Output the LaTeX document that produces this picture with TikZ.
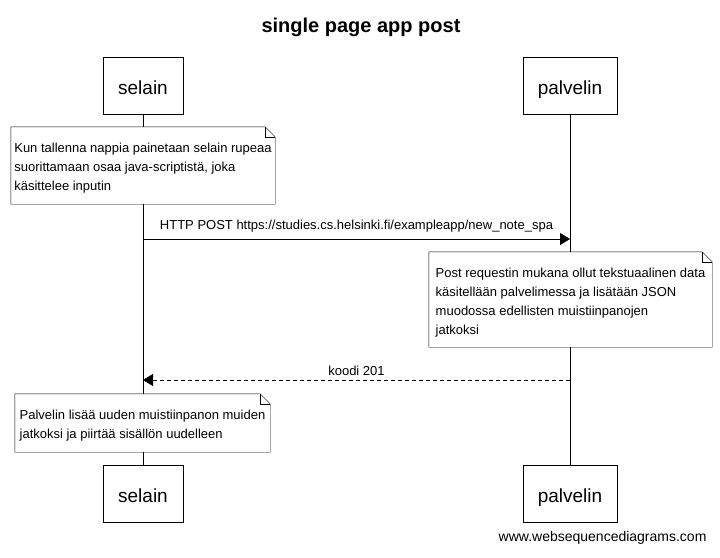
\documentclass[tikz,border=0pt]{standalone}
\usepackage{fontspec}
\setmainfont{Liberation Sans}
\usetikzlibrary{%
  arrows.meta,%
  calc%
}
\tikzset{>={Triangle[length=10pt,width=12pt]}}
\tikzset{x=1pt, y=-1pt, line width=1pt,
  actor/.style = {draw, minimum width=#1, minimum height=57pt, inner sep=0pt,
    font=\fontsize{19}{19}\selectfont, text height=17pt, text depth=0pt},
  notebox/.style = {fill=white, inner sep=0pt},
  note/.style = {align=left, inner sep=0pt, font=\fontsize{13}{19}\selectfont},
  msg/.style = {->},
  reply/.style = {->, dash pattern=on 4pt off 3pt},
  msglabel/.style = {midway, anchor=base, font=\fontsize{13}{15}\selectfont}}
% outline of a note with its folded corner
\newcommand{\dogear}[1]{%
  \draw (#1.north west) -- ($(#1.north east)+(-10,0)$) -- ($(#1.north east)+(0,10)$)
    -- (#1.south east) -- (#1.south west) -- cycle;
  \draw ($(#1.north east)+(-10,0)$) |- ($(#1.north east)+(0,10)$);
}

\begin{document}
\begin{tikzpicture}
  \path[use as bounding box, fill=white] (0,0) rectangle (720,557);
  \node[anchor=base, font=\fontsize{20}{20}\selectfont\bfseries] (title) at (361,32) {single page app post};
  \node[actor=80pt] (sel1) at (143,85.5) {selain};
  \node[actor=94pt] (pal1) at (570,85.5) {palvelin};
  \node[actor=80pt] (sel2) at (143,493.5) {selain};
  \node[actor=94pt] (pal2) at (570,493.5) {palvelin};
  \draw (sel1) -- (sel2);
  \draw (pal1) -- (pal2);
  \node[notebox, minimum width=264pt, minimum height=77pt] (n1) at (143,165.5) {};
  \dogear{n1}
  \node[note] (t1) at ($(n1)+(0,3)$)
    {Kun tallenna nappia painetaan selain rupeaa\\suorittamaan osaa java-scriptistä, joka\\käsittelee inputin};
  \coordinate (post s) at (sel1 |- 0,239);
  \coordinate (post p) at (pal1 |- 0,239);
  \draw[msg] (post s) -- (post p)
    node[msglabel, yshift=9.5pt] {HTTP POST https://studies.cs.helsinki.fi/exampleapp/new\_note\_spa};
  \node[notebox, minimum width=283pt, minimum height=95pt] (n2) at (570.5,299.5) {};
  \dogear{n2}
  \node[note] (t2) at ($(n2)+(0,3)$)
    {Post requestin mukana ollut tekstuaalinen data\\käsitellään palvelimessa ja lisätään JSON\\muodossa edellisten muistiinpanojen\\jatkoksi};
  \coordinate (ret p) at (pal1 |- 0,380);
  \coordinate (ret s) at (sel1 |- 0,380);
  \draw[reply] (ret p) -- (ret s) node[msglabel, yshift=4.5pt] {koodi 201};
  \node[notebox, minimum width=255pt, minimum height=58pt] (n3) at (142.5,423) {};
  \dogear{n3}
  \node[note] (t3) at ($(n3)+(0,3)$)
    {Palvelin lisää uuden muistiinpanon muiden\\jatkoksi ja piirtää sisällön uudelleen};
  \node[anchor=base east, font=\fontsize{14}{14}\selectfont] (wsd) at (710,541.5) {www.websequencediagrams.com};
\end{tikzpicture}
\end{document}
